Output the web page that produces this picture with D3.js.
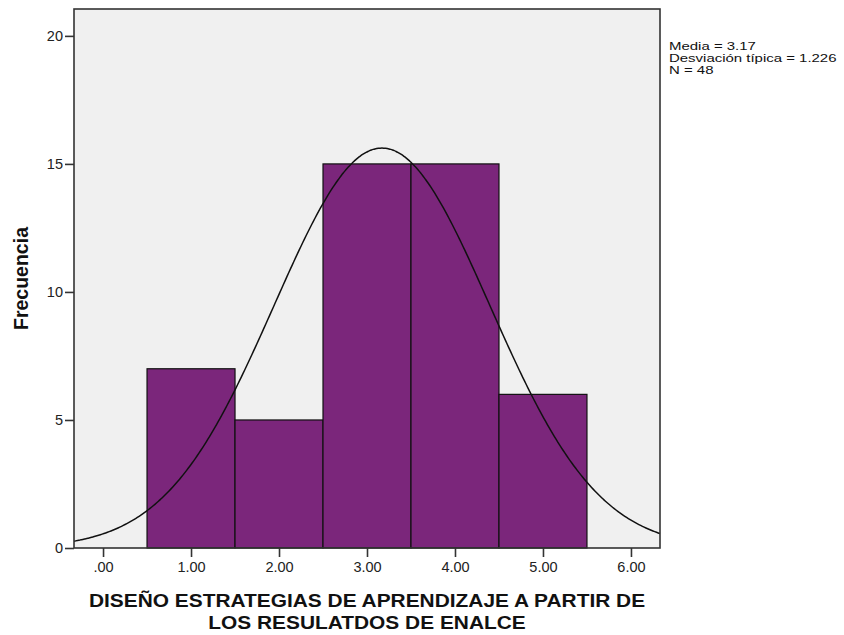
<!DOCTYPE html>
<html><head><meta charset="utf-8">
<script src="https://cdn.jsdelivr.net/npm/d3@7"></script>
<style>body{margin:0;background:#fff}</style>
</head><body>
<svg id="c" width="844" height="635"></svg>
<script>
const binStarts = [0.5, 1.5, 2.5, 3.5, 4.5];
const binEnds = [1.5, 2.5, 3.5, 4.5, 5.5];
const counts = [7, 5, 15, 15, 6];
const xTicks = [0, 1, 2, 3, 4, 5, 6];
const xTickLabels = [".00", "1.00", "2.00", "3.00", "4.00", "5.00", "6.00"];
const yTicks = [0, 5, 10, 15, 20];
const statMean = 3.17, statSd = 1.226, statN = 48;
const statLines = ["Media = 3.17", "Desviación típica = 1.226", "N = 48"];

const FONT = "Liberation Sans, Arial, sans-serif";
const svg = d3.select("#c");
const L = 74, R = 660, T = 9, B = 548;
const x = d3.scaleLinear().domain([-0.33, 6.33]).range([L, R]);
const y = d3.scaleLinear().domain([0, 21.05]).range([B, T]);

svg.append("rect").attr("x", L).attr("y", T).attr("width", R - L).attr("height", B - T).attr("fill", "#f0f0f0");

const bars = binStarts.map((s, i) => ({s, e: binEnds[i], c: counts[i]}));
svg.selectAll("rect.bar").data(bars).enter().append("rect").attr("class", "bar")
  .attr("x", d => x(d.s)).attr("y", d => y(d.c))
  .attr("width", d => x(d.e) - x(d.s)).attr("height", d => y(0) - y(d.c))
  .attr("fill", "#7b267b").attr("stroke", "#111").attr("stroke-width", 1.2);

// normal curve from the chart's reported mean, sd and N
const bw = 1;
const pdf = v => statN * bw / (statSd * Math.sqrt(2 * Math.PI)) * Math.exp(-0.5 * ((v - statMean) / statSd) ** 2);
const pts = d3.range(-0.33, 6.3301, 0.02).map(v => [v, pdf(v)]);
svg.append("path").datum(pts)
  .attr("d", d3.line().x(d => x(d[0])).y(d => y(d[1])).curve(d3.curveBasis))
  .attr("fill", "none").attr("stroke", "#111").attr("stroke-width", 1.5);

svg.append("rect").attr("x", L).attr("y", T).attr("width", R - L).attr("height", B - T)
  .attr("fill", "none").attr("stroke", "#333").attr("stroke-width", 1.6);

const xa = svg.append("g").attr("transform", `translate(0,${B})`)
  .call(d3.axisBottom(x).tickValues(xTicks).tickFormat((d, i) => xTickLabels[i]).tickSize(9).tickPadding(5));
const ya = svg.append("g").attr("transform", `translate(${L},0)`)
  .call(d3.axisLeft(y).tickValues(yTicks).tickSize(9).tickPadding(2));
[xa, ya].forEach(a => {
  a.select(".domain").remove();
  a.selectAll("line").attr("stroke", "#333").attr("stroke-width", 1.6);
  a.selectAll("text").attr("font-family", FONT).attr("font-size", 14.5).attr("fill", "#222");
});

svg.append("text").attr("transform", `translate(28,${(T + B) / 2}) rotate(-90)`)
  .attr("text-anchor", "middle").attr("font-family", FONT)
  .attr("font-weight", "bold").attr("font-size", 19.5).attr("fill", "#111").text("Frecuencia");

const tg = svg.append("g").attr("transform", "translate(367,0) scale(1.13,1)");
const xt = tg.append("text").attr("text-anchor", "middle").attr("font-family", FONT)
  .attr("font-weight", "bold").attr("font-size", 18.5).attr("fill", "#111");
xt.append("tspan").attr("x", 0).attr("y", 607).text("DISEÑO ESTRATEGIAS DE APRENDIZAJE A PARTIR DE");
xt.append("tspan").attr("x", 0).attr("y", 629).text("LOS RESULATDOS DE ENALCE");

const sg = svg.append("g").attr("transform", "translate(669,0) scale(1.36,1)");
const st = sg.append("text").attr("font-family", FONT).attr("font-size", 11).attr("fill", "#111");
statLines.forEach((s, i) => st.append("tspan").attr("x", 0).attr("y", 50 + i * 12).text(s));
</script>
</body></html>
